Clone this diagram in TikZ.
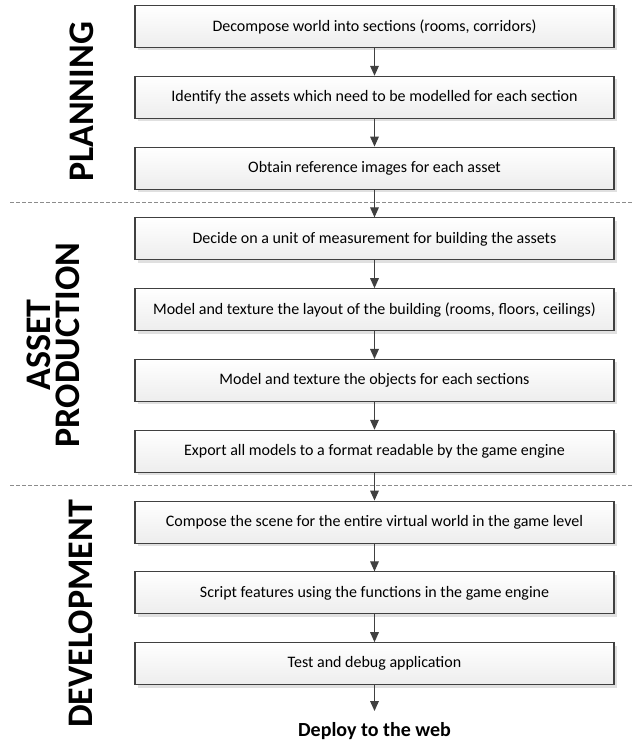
\documentclass[tikz,border=0pt]{standalone}
\usepackage{fontspec}
\setmainfont{Carlito}
\usetikzlibrary{arrows.meta,shadows}
\begin{document}
\begin{tikzpicture}[x=0.75pt,y=-0.75pt,
  stepbox/.style={draw=black!75, line width=0.8pt, top color=white, bottom color=black!7,
    minimum width=359.25pt, minimum height=31.5pt, inner sep=0pt, font=\fontsize{12}{14}\selectfont,
    drop shadow={opacity=1, fill=black!12, shadow xshift=2.2pt, shadow yshift=-2.2pt}},
  flow/.style={draw=black!75, line width=0.9pt, -{Triangle[length=7.5pt,width=6.5pt]}},
  sep/.style={draw=black!45, line width=0.6pt, dash pattern=on 3pt off 1.5pt},
  phase/.style={rotate=90, font=\fontsize{27}{21.5}\selectfont\bfseries, align=center, inner sep=0pt}
]
\useasboundingbox (0,0) rectangle (632,743);
\node[stepbox] (b1) at (374.5,26.5) {Decompose world into sections (rooms, corridors)};
\node[stepbox] (b2) at (374.5,97.3) {Identify the assets which need to be modelled for each section};
\node[stepbox] (b3) at (374.5,168.1) {Obtain reference images for each asset};
\node[stepbox] (b4) at (374.5,238.9) {Decide on a unit of measurement for building the assets};
\node[stepbox] (b5) at (374.5,309.7) {Model and texture the layout of the building (rooms, floors, ceilings)};
\node[stepbox] (b6) at (374.5,380.5) {Model and texture the objects for each sections};
\node[stepbox] (b7) at (374.5,451.3) {Export all models to a format readable by the game engine};
\node[stepbox] (b8) at (374.5,522.1) {Compose the scene for the entire virtual world in the game level};
\node[stepbox] (b9) at (374.5,592.9) {Script features using the functions in the game engine};
\node[stepbox] (b10) at (374.5,663.7) {Test and debug application};
\coordinate (end) at (374.5,711);
\node[font=\fontsize{15}{17}\selectfont\bfseries, anchor=base] (deploy) at (374.5,736) {Deploy to the web};

\coordinate (s1l) at (10,202); \coordinate (s1r) at (632,202);
\coordinate (s2l) at (10,485); \coordinate (s2r) at (632,485);
\draw[sep] (s1l) -- (s1r);
\draw[sep] (s2l) -- (s2r);

\draw[flow] (b1) -- (b2);
\draw[flow] (b2) -- (b3);
\draw[flow] (b3) -- (b4);
\draw[flow] (b4) -- (b5);
\draw[flow] (b5) -- (b6);
\draw[flow] (b6) -- (b7);
\draw[flow] (b7) -- (b8);
\draw[flow] (b8) -- (b9);
\draw[flow] (b9) -- (b10);
\draw[flow] (b10) -- (end);

\node[phase] (p1) at (82,102) {PLANNING};
\node[phase] (p2) at (53,345) {ASSET\\PRODUCTION};
\node[phase] (p3) at (81,614) {DEVELOPMENT};
\end{tikzpicture}
\end{document}
